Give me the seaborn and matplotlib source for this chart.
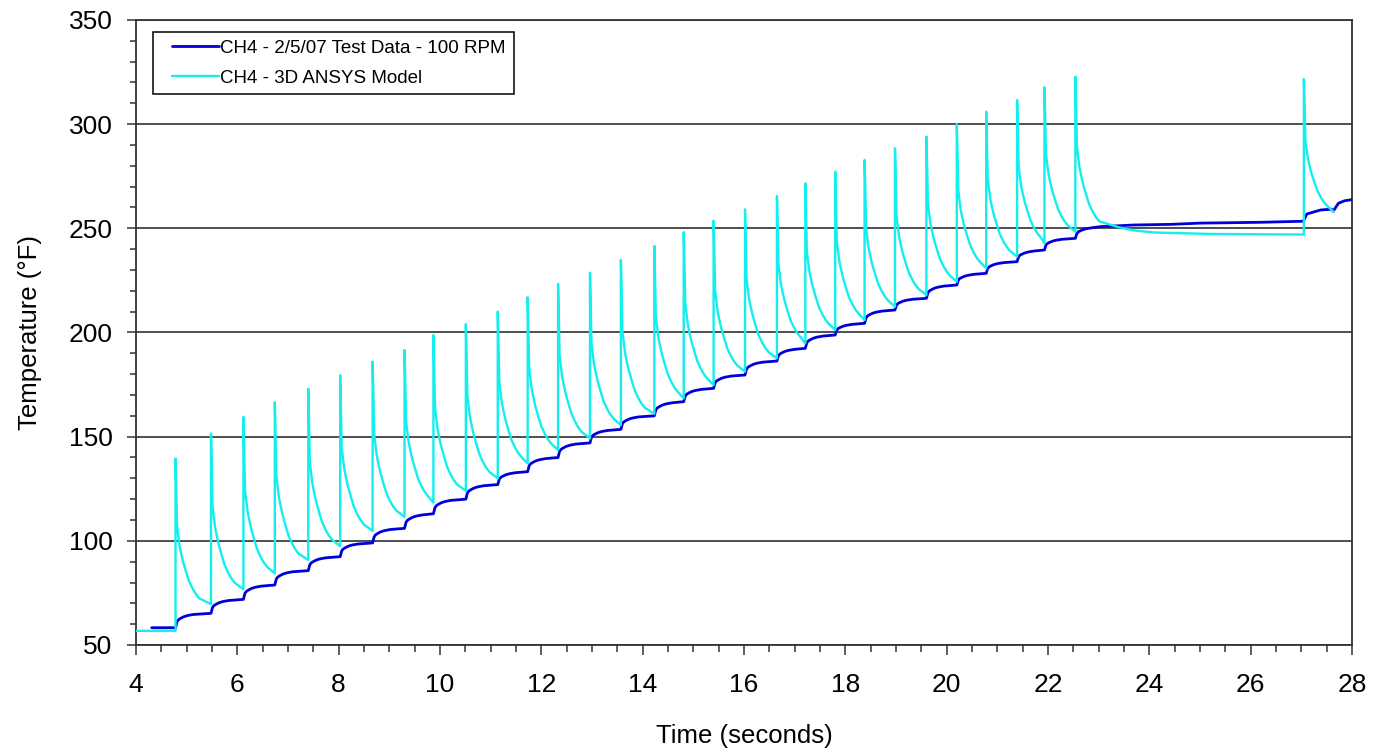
import matplotlib
matplotlib.use("Agg")
import numpy as np
import pandas as pd
import matplotlib.pyplot as plt
from matplotlib.lines import Line2D
from matplotlib.legend_handler import HandlerLine2D
from matplotlib.ticker import MultipleLocator
import seaborn as sns

# Heating pulse times (s), shared by the test record and the model
pulse_time = [4.78, 5.48, 6.12, 6.74, 7.40, 8.03, 8.67, 9.30, 9.87, 10.51,
              11.14, 11.73, 12.33, 12.96, 13.57, 14.23, 14.81, 15.40, 16.02, 16.65,
              17.21, 17.80, 18.38, 18.98, 19.60, 20.20, 20.78, 21.39, 21.93, 22.54,
              27.05]

# ANSYS model: peak at each pulse, value reached at the end of the cycle, end time
model_peak = [139.5, 151.5, 159.5, 166.5, 173.0, 179.5, 186.0, 191.6, 198.8, 204.0,
              210.0, 216.9, 223.3, 228.7, 234.8, 241.5, 248.2, 253.6, 259.1, 265.5,
              271.6, 277.2, 282.8, 288.4, 294.0, 300.0, 306.0, 311.6, 317.7, 322.8,
              321.6]
model_floor = [69.6, 76.8, 84.4, 90.8, 97.5, 104.8, 111.5, 118.3, 124.0, 130.0,
               137.2, 143.6, 149.2, 155.6, 161.0, 168.4, 174.8, 181.2, 187.6, 194.8,
               201.2, 206.0, 212.4, 218.0, 224.4, 230.8, 236.4, 242.8, 248.4, 250.5,
               258.0]
model_cycle_end = pulse_time[1:30] + [23.40, 27.64]

# Model before the first pulse and during the dwell after the pulse train
model_start_t = [4.00]
model_start_v = [56.8]
model_hold_t = [23.70, 24.10, 25.20, 27.05]
model_hold_v = [249.0, 248.0, 247.3, 247.0]

# Relaxation after a pulse: time after the pulse (s), share of peak rise left
decay_dt = [0.0, 0.012, 0.03, 0.05, 0.08, 0.11, 0.15, 0.21, 0.27, 0.34, 0.40, 0.47]
decay_frac = [1.0, 0.84, 0.54, 0.48, 0.40, 0.35, 0.29, 0.22, 0.155, 0.105, 0.07, 0.04]

# Test data (2/5/07, 100 RPM): level just before each of the first 30 pulses
test_level = [58.3, 65.2, 71.9, 78.8, 85.7, 92.4, 99.0, 106.0, 113.0, 120.0,
              127.0, 133.2, 140.0, 147.0, 153.5, 160.0, 166.8, 173.2, 179.6, 186.3,
              192.4, 198.8, 204.4, 210.8, 216.4, 222.8, 228.4, 234.0, 239.6, 245.2]
test_start_t = [4.31]
test_start_v = [58.3]
test_hold_t = [23.03, 23.69, 24.42, 25.00, 26.20, 27.04]
test_hold_v = [250.8, 251.6, 251.9, 252.5, 252.9, 253.4]
test_end_t = [27.11, 27.38, 27.60, 27.63, 27.73, 27.85, 28.00]
test_end_v = [256.9, 258.8, 259.2, 258.2, 262.0, 263.2, 263.8]

# Step response of the measured channel: time after the pulse (s), share of step done
rise_dt = [0.0, 0.03, 0.06, 0.10, 0.16, 0.23, 0.35]
rise_frac = [0.0, 0.42, 0.56, 0.65, 0.76, 0.84, 0.92]

LABEL_TEST = "CH4 - 2/5/07 Test Data - 100 RPM"
LABEL_MODEL = "CH4 - 3D ANSYS Model"


def model_trace():
    t, v = list(model_start_t), list(model_start_v)
    for i, t0 in enumerate(pulse_time):
        peak, floor, end = model_peak[i], model_floor[i], model_cycle_end[i]
        t.append(t0)
        v.append(v[-1])
        for dt, fr in zip(decay_dt, decay_frac):
            if t0 + dt < end:
                t.append(t0 + dt)
                v.append(floor + fr * (peak - floor))
        t.append(end)
        v.append(floor)
        if i == 29:
            t += model_hold_t
            v += model_hold_v
    return t, v


def test_trace():
    t, v = list(test_start_t), list(test_start_v)
    n = len(test_level)
    for i in range(n):
        t0, lo = pulse_time[i], test_level[i]
        if i < n - 1:
            hi, end = test_level[i + 1], pulse_time[i + 1]
        else:
            hi, end = test_hold_v[0], test_hold_t[0]
        for dt, fr in zip(rise_dt, rise_frac):
            if t0 + dt < end:
                t.append(t0 + dt)
                v.append(lo + fr * (hi - lo))
    t += test_hold_t
    v += test_hold_v
    t += test_end_t
    v += test_end_v
    return t, v


mt, mv = model_trace()
tt, tv = test_trace()
df = pd.concat([
    pd.DataFrame({"Time": tt, "Temperature": tv, "Series": LABEL_TEST}),
    pd.DataFrame({"Time": mt, "Temperature": mv, "Series": LABEL_MODEL}),
], ignore_index=True)

sns.set_style("ticks")
plt.rcParams["font.family"] = ["Liberation Sans", "DejaVu Sans"]
plt.rcParams["text.color"] = "black"
plt.rcParams["axes.labelcolor"] = "black"
plt.rcParams["xtick.labelcolor"] = "black"
plt.rcParams["ytick.labelcolor"] = "black"

fig = plt.figure(figsize=(13.73, 7.54), dpi=100)
ax = fig.add_axes([136 / 1373, 1 - 645 / 754, (1352 - 136) / 1373, (645 - 20) / 754])

colors = {LABEL_TEST: "#0000d8", LABEL_MODEL: "#14eeee"}
widths = {LABEL_TEST: 2.0, LABEL_MODEL: 1.7}
for name in [LABEL_TEST, LABEL_MODEL]:
    sns.lineplot(data=df[df["Series"] == name], x="Time", y="Temperature",
                 sort=False, estimator=None, color=colors[name],
                 linewidth=widths[name], label=name, ax=ax, zorder=3)

ax.set_xlim(4, 28)
ax.set_ylim(50, 350)
ax.xaxis.set_major_locator(MultipleLocator(2))
ax.xaxis.set_minor_locator(MultipleLocator(0.5))
ax.yaxis.set_major_locator(MultipleLocator(50))
ax.yaxis.set_minor_locator(MultipleLocator(10))

ax.tick_params(axis="x", which="major", direction="out", length=7.2, width=1.1,
               color="#333333", labelcolor="black", labelsize=19, pad=13)
ax.tick_params(axis="x", which="minor", direction="out", length=4.7, width=1.1,
               color="#333333")
ax.tick_params(axis="y", which="major", direction="out", length=6.5, width=1.1,
               color="#333333", labelcolor="black", labelsize=19, pad=10.5)
ax.tick_params(axis="y", which="minor", direction="out", length=4.5, width=1.1,
               color="#333333")

ax.yaxis.grid(True, which="major", color="#1e1e1e", linewidth=1.1, zorder=1)
ax.xaxis.grid(False)
ax.set_axisbelow(True)

for side in ["left", "right", "top", "bottom"]:
    ax.spines[side].set_visible(True)
    ax.spines[side].set_color("#333333")
    ax.spines[side].set_linewidth(1.3)

ax.set_xlabel("Time (seconds)", fontsize=18.5, color="black")
ax.set_ylabel("Temperature (°F)", fontsize=18.5, color="black")
ax.xaxis.set_label_coords(0.5, -0.126)
ax.yaxis.set_label_coords(-0.077, 0.5)

handles, labels = ax.get_legend_handles_labels()
leg = ax.legend(handles, labels, loc="upper left",
                bbox_to_anchor=((153 - 136) / 1216, (645 - 32) / 625),
                borderaxespad=0, fontsize=13.5, frameon=True, fancybox=False,
                edgecolor="black", framealpha=1, borderpad=0.4,
                labelspacing=0.7, handlelength=3.1, handletextpad=0.1,
                handler_map={Line2D: HandlerLine2D(xpad=0.6)})
leg.get_frame().set_linewidth(1.1)
for txt in leg.get_texts():
    txt.set_color("black")

fig.savefig("out.png", dpi=100)
